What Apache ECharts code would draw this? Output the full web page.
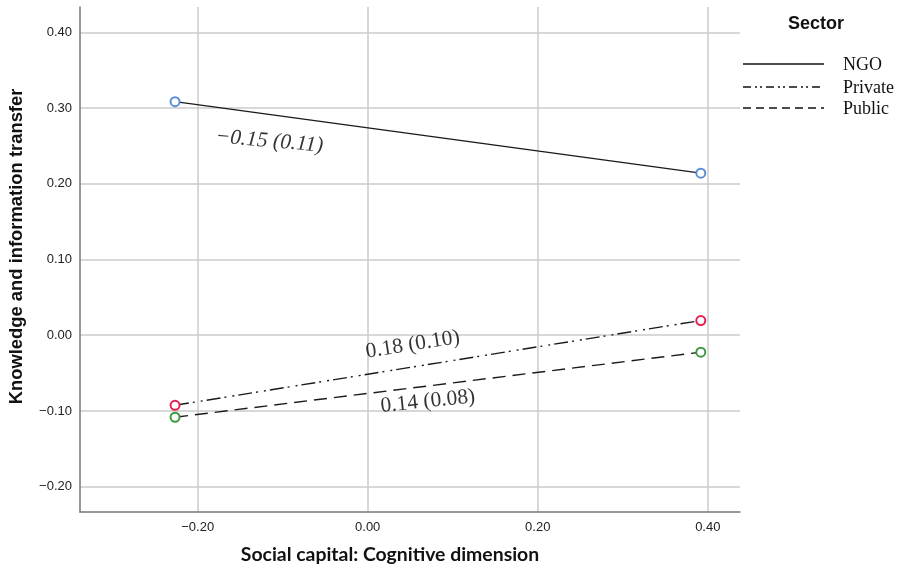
<!DOCTYPE html>
<html>
<head>
<meta charset="utf-8">
<script src="https://cdn.jsdelivr.net/npm/echarts@6/dist/echarts.min.js"></script>
<style>html,body{margin:0;padding:0;background:#fff}#c{width:904px;height:569px}</style>
</head>
<body>
<div id="c"></div>
<script>
// ---- data ----
const xValues = [-0.2266, 0.3918];
const sectors = ['NGO', 'Private', 'Public'];
const ngoValues = [0.3084, 0.2140];
const privateValues = [-0.0925, 0.0194];
const publicValues = [-0.1083, -0.0224];
const yTicks = [-0.2, -0.1, 0.0, 0.1, 0.2, 0.3, 0.4];
const xTicks = [-0.2, 0.0, 0.2, 0.4];
const slopeTexts = ['\u22120.15 (0.11)', '0.18 (0.10)', '0.14 (0.08)'];
const slopeX = [-0.1156, 0.053, 0.0708];
const slopeY = [0.256, -0.0125, -0.0875];
const slopeRotate = [-5, 9, 6];

const fmt = v => { const s = Math.abs(v).toFixed(2); return (v < -1e-9 ? '\u2212' : '') + s; };
const markerColors = ['#5a8fd8', '#e3204e', '#3d9a3d'];
const dashes = ['solid', [14, 4, 2, 6, 2, 4], [13, 7]];
const legendDashes = [null, [8, 4, 2, 3, 2, 4], [8, 5]];
const seriesValues = [ngoValues, privateValues, publicValues];

const lineSeries = sectors.map((name, i) => ({
  name: name,
  type: 'line',
  data: xValues.map((x, j) => [x, seriesValues[i][j]]),
  symbol: 'emptyCircle',
  symbolSize: 9,
  showSymbol: true,
  itemStyle: { color: markerColors[i], borderWidth: 1.5 },
  lineStyle: { color: '#1a1a1a', width: 1.4, type: dashes[i] },
  z: 3
}));

const labelSeries = slopeTexts.map((t, i) => ({
  type: 'scatter',
  data: [[slopeX[i], slopeY[i]]],
  symbolSize: 0,
  silent: true,
  label: {
    show: true, position: 'inside', formatter: t, rotate: slopeRotate[i],
    fontFamily: 'Liberation Serif', fontSize: 21.5, color: '#000',
    textBorderWidth: 0,
    fontStyle: i === 0 ? 'italic' : 'normal'
  },
  z: 4
}));

const legendY = [64, 87, 108];
const legendGraphics = [];
legendGraphics.push({
  type: 'text', left: 788, top: 15,
  style: { text: 'Sector', font: 'bold 18px "Liberation Sans", Arial', fill: '#111' }
});
sectors.forEach((name, i) => {
  legendGraphics.push({
    type: 'line',
    shape: { x1: 743, y1: legendY[i], x2: 824, y2: legendY[i] },
    style: { stroke: '#111', lineWidth: 1.6, lineDash: legendDashes[i] }
  });
  legendGraphics.push({
    type: 'text', x: 843, y: legendY[i] + 1,
    style: { text: name, font: '18px "Liberation Serif"', fill: '#111', textVerticalAlign: 'middle' }
  });
});

const chart = echarts.init(document.getElementById('c'), null, { renderer: 'canvas' });
chart.setOption({
  animation: false,
  backgroundColor: '#fff',
  grid: { left: 78, right: 164, top: 7, bottom: 56, containLabel: false },
  xAxis: {
    type: 'value', min: -0.3384, max: 0.4379,
    name: 'Social capital: Cognitive dimension', nameLocation: 'middle', nameGap: 33,
    nameTextStyle: { fontFamily: 'Lato', fontWeight: 'bold', fontSize: 19.4, color: '#111', padding: [0, 40, 0, 0] },
    axisLine: { show: true, onZero: false, lineStyle: { color: '#777', width: 1.5 } },
    axisTick: { show: false, customValues: xTicks },
    axisLabel: { customValues: xTicks, formatter: fmt, fontFamily: 'Liberation Sans', fontSize: 13, color: '#222', margin: 9 },
    splitLine: { show: true, lineStyle: { color: '#cbcbcb', width: 1.5 } }
  },
  yAxis: {
    type: 'value', min: -0.2334, max: 0.4334,
    name: 'Knowledge and information transfer', nameLocation: 'middle', nameGap: 54,
    nameTextStyle: { fontFamily: 'Liberation Sans', fontWeight: 'bold', fontSize: 18.4, color: '#111', padding: [0, 0, 0, 26] },
    axisLine: { show: true, onZero: false, lineStyle: { color: '#777', width: 1.5 } },
    axisTick: { show: false, customValues: yTicks },
    axisLabel: { customValues: yTicks, formatter: fmt, fontFamily: 'Liberation Sans', fontSize: 13, color: '#222', margin: 8 },
    splitLine: { show: true, lineStyle: { color: '#cbcbcb', width: 1.5 } }
  },
  series: lineSeries.concat(labelSeries),
  graphic: legendGraphics
});
</script>
</body>
</html>
